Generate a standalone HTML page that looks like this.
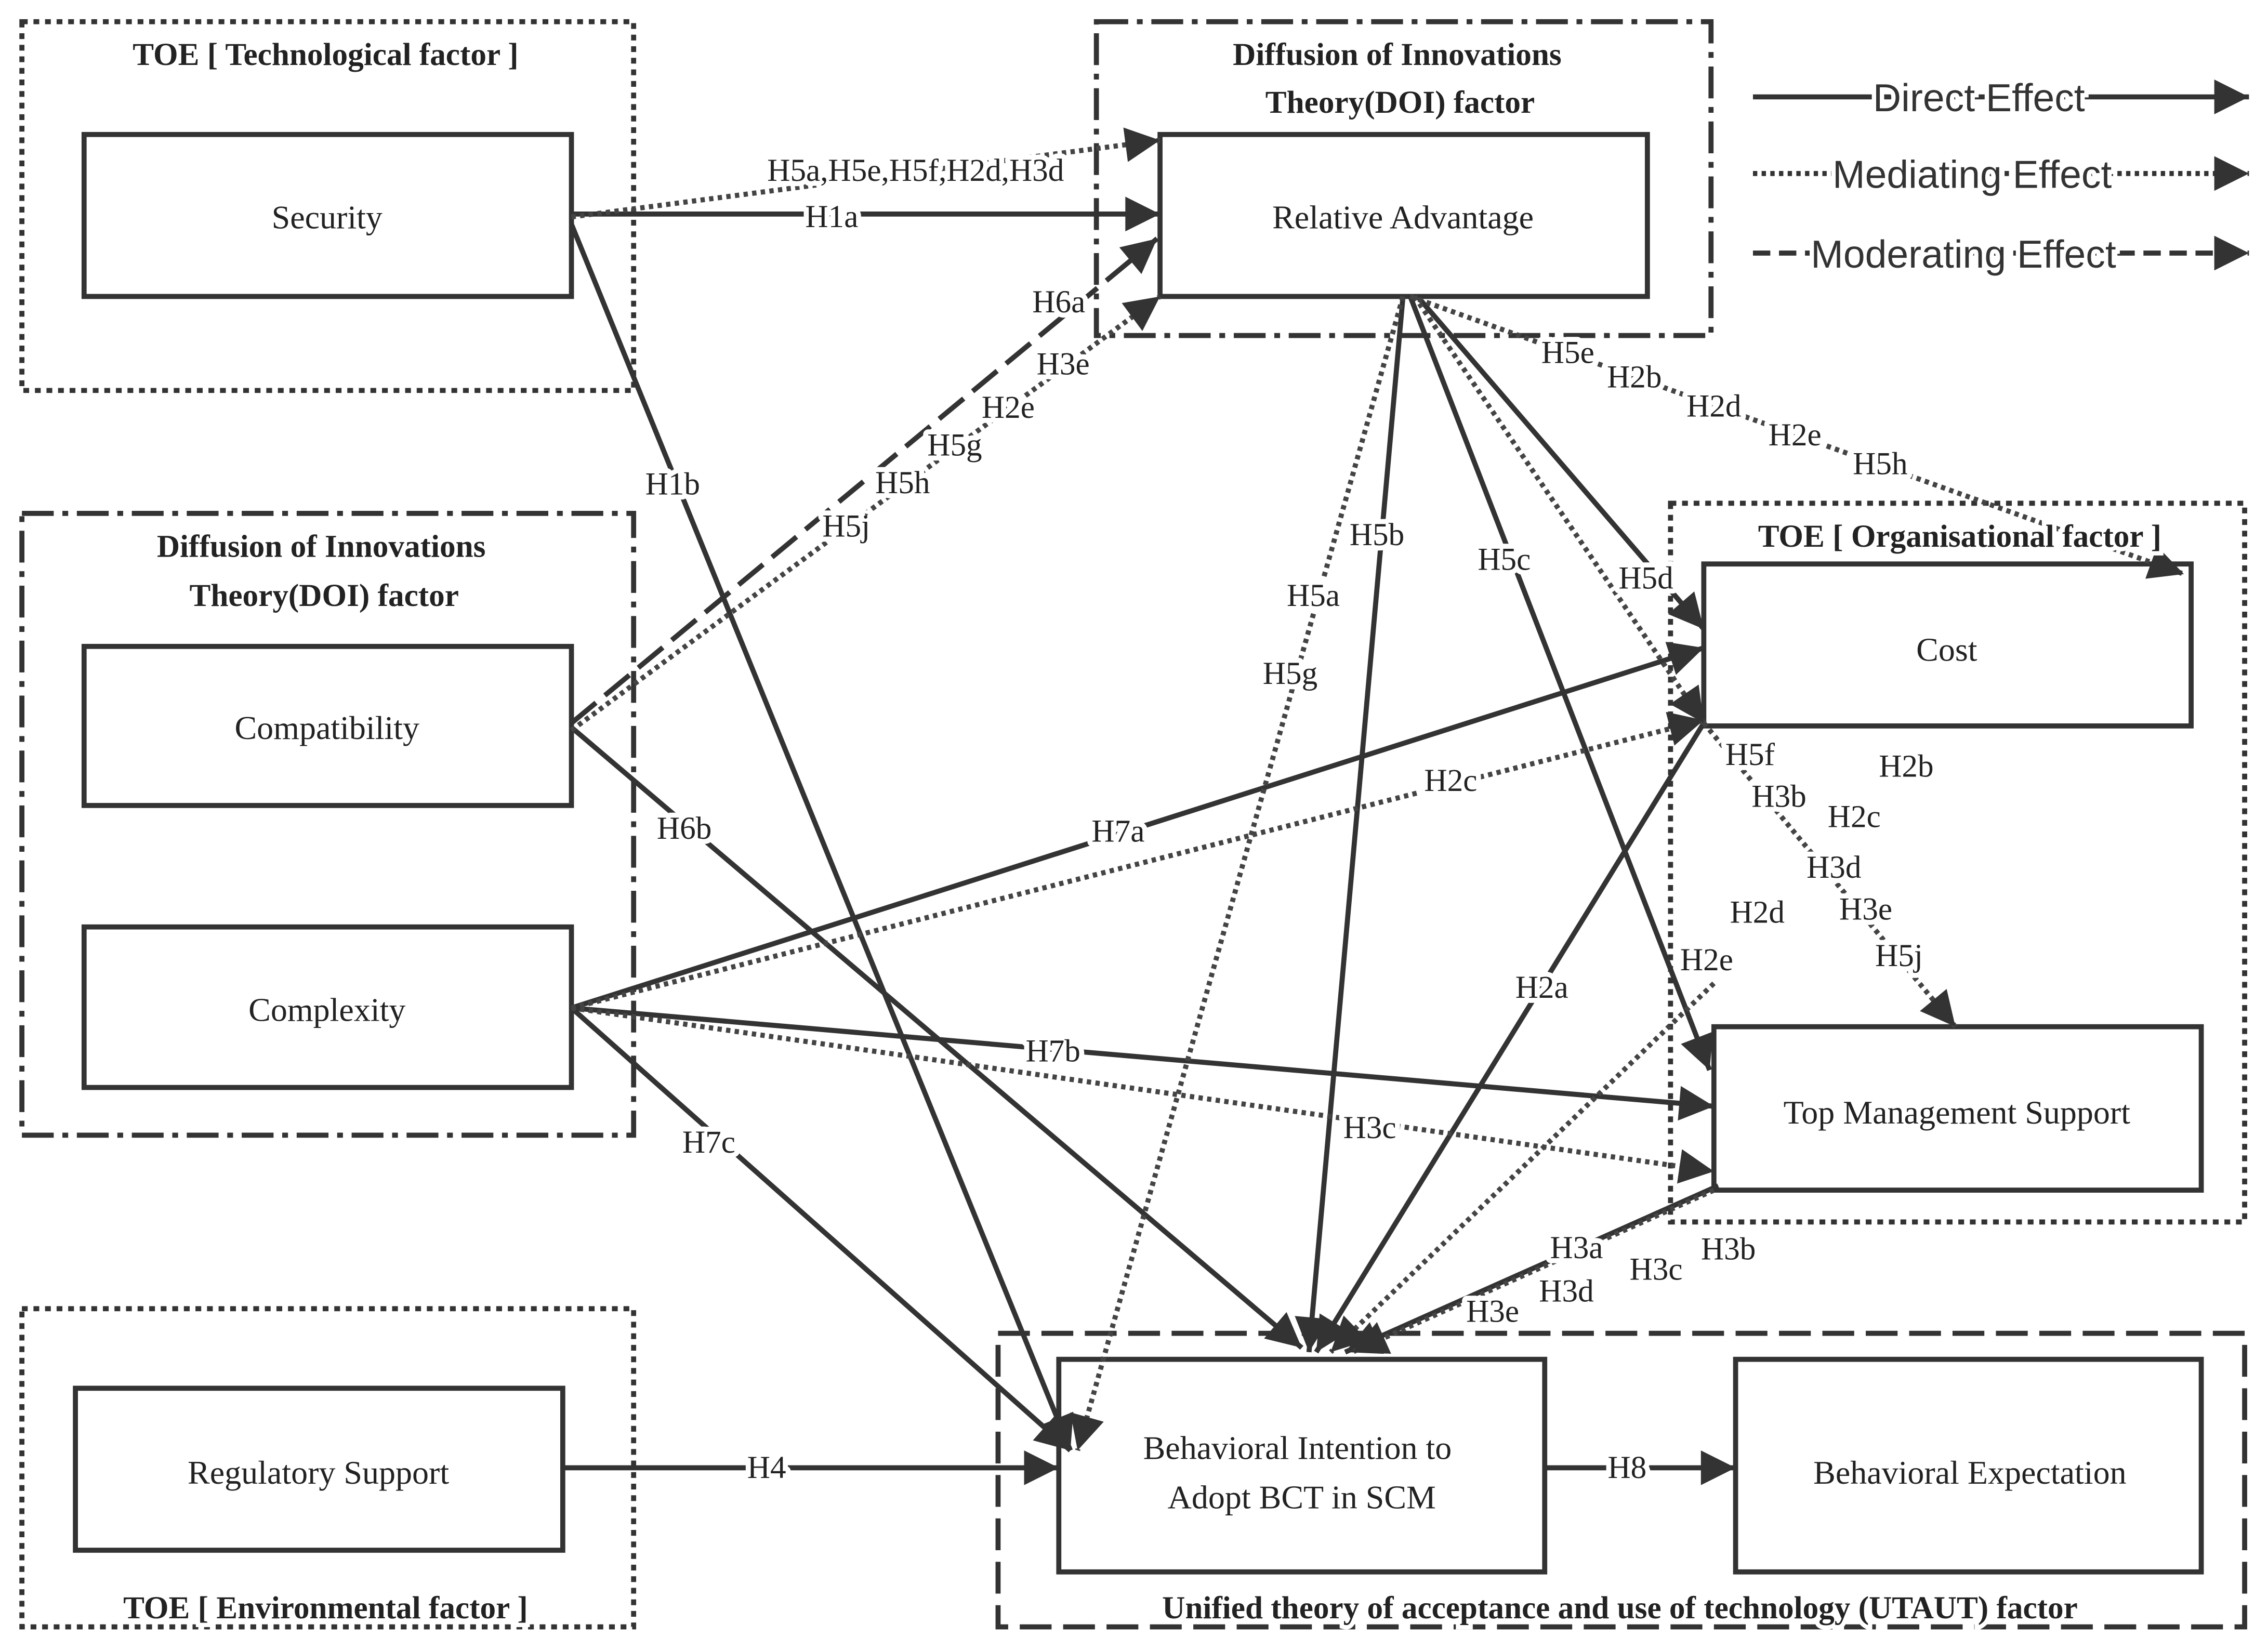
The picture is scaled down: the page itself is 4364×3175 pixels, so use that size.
<!DOCTYPE html>
<html><head><meta charset="utf-8"><style>
html,body{margin:0;padding:0;background:#fff}
svg{display:block}
text{font-family:"Liberation Serif",serif;fill:#222}
.l{font-size:22px;text-anchor:middle;paint-order:stroke;stroke:#fff;stroke-width:7px;stroke-linejoin:round}
.t{font-size:22px;font-weight:bold;text-anchor:middle}
.n{font-size:23px;text-anchor:middle}
.lg{font-family:"Liberation Sans",sans-serif;font-size:27px;fill:#333;paint-order:stroke;stroke:#fff;stroke-width:6px}
</style></head><body>
<svg width="4364" height="3175" viewBox="0 0 1568 1141" xmlns="http://www.w3.org/2000/svg">
<defs>
<marker id="a" viewBox="0 0 10 10" refX="10" refY="5" markerWidth="7" markerHeight="7" markerUnits="userSpaceOnUse" orient="auto" style="overflow:visible">
<path d="M0,0 L10,5 L0,10 z" fill="#333" transform="scale(1)"/>
</marker>
<marker id="A" viewBox="0 0 10 10" refX="10" refY="5" markerWidth="30" markerHeight="24" markerUnits="userSpaceOnUse" orient="auto">
<path d="M0,0 L10,5 L0,10 z" fill="#333"/>
</marker>
</defs>
<rect width="1568" height="1141" fill="#fff"/>
<g fill="none" stroke="#333" stroke-width="3.5">
<!-- group boxes -->
<rect x="15" y="15" width="423" height="255" stroke-dasharray="4 4"/>
<rect x="758" y="15" width="425" height="217" stroke-dasharray="22 6 4 6"/>
<rect x="15" y="355" width="423" height="430" stroke-dasharray="22 6 4 6"/>
<rect x="1155" y="348" width="397" height="497" stroke-dasharray="4 4"/>
<rect x="15" y="905" width="423" height="220" stroke-dasharray="4 4"/>
<rect x="690" y="922" width="862" height="203" stroke-dasharray="22 8"/>
<!-- nodes -->
<rect x="58" y="93" width="337" height="112"/>
<rect x="802" y="93" width="337" height="112"/>
<rect x="58" y="447" width="337" height="110"/>
<rect x="58" y="641" width="337" height="111"/>
<rect x="1178" y="390" width="337" height="112"/>
<rect x="1185" y="710" width="337" height="113"/>
<rect x="52" y="960" width="337" height="112"/>
<rect x="732" y="940" width="336" height="147"/>
<rect x="1200" y="940" width="322" height="147"/>
</g>
<g fill="none" stroke="#333" stroke-width="3.5" marker-end="url(#A)">
<!-- solid -->
<line x1="395" y1="148" x2="802" y2="148"/>
<line x1="395" y1="155" x2="740" y2="1003"/>
<line x1="395" y1="503" x2="900" y2="932"/>
<line x1="395" y1="697" x2="1178" y2="448"/>
<line x1="395" y1="697" x2="1185" y2="765"/>
<line x1="395" y1="697" x2="740" y2="1003"/>
<line x1="389" y1="1015" x2="732" y2="1015"/>
<line x1="1068" y1="1015" x2="1200" y2="1015"/>
<line x1="970" y1="205" x2="905" y2="935"/>
<line x1="975" y1="205" x2="1182" y2="740"/>
<line x1="980" y1="205" x2="1178" y2="435"/>
<line x1="1178" y1="500" x2="910" y2="935"/>
<line x1="1188" y1="820" x2="930" y2="935"/>
</g>
<g fill="none" stroke="#333" stroke-width="3.5" stroke-dasharray="22 8" marker-end="url(#A)">
<line x1="395" y1="500" x2="800" y2="165"/>
</g>
<g fill="none" stroke="#444" stroke-width="3.5" stroke-dasharray="3 3" marker-end="url(#A)">
<line x1="395" y1="150" x2="802" y2="97"/>
<line x1="395" y1="505" x2="802" y2="205"/>
<line x1="395" y1="697" x2="1178" y2="498"/>
<line x1="395" y1="697" x2="1185" y2="810"/>
<line x1="970" y1="205" x2="745" y2="1003"/>
<line x1="975" y1="205" x2="1510" y2="397"/>
<line x1="978" y1="205" x2="1178" y2="500"/>
<line x1="1178" y1="500" x2="1352" y2="710"/>
<line x1="1185" y1="680" x2="920" y2="935"/>
<line x1="1185" y1="823" x2="935" y2="935"/>
</g>
<!-- legend -->
<g stroke="#333" stroke-width="3.5" marker-end="url(#A)">
<line x1="1212" y1="67" x2="1555" y2="67"/>
<line x1="1212" y1="120" x2="1555" y2="120" stroke-dasharray="3 3"/>
<line x1="1212" y1="175" x2="1555" y2="175" stroke-dasharray="12 6"/>
</g>
<text class="lg" x="1295" y="77">Direct Effect</text>
<text class="lg" x="1267" y="130">Mediating Effect</text>
<text class="lg" x="1252" y="185">Moderating Effect</text>
<!-- titles -->
<text class="t" x="225" y="45">TOE [ Technological factor ]</text>
<text class="t" x="966" y="45">Diffusion of Innovations</text>
<text class="t" x="968" y="78">Theory(DOI) factor</text>
<text class="t" x="222" y="385">Diffusion of Innovations</text>
<text class="t" x="224" y="419">Theory(DOI) factor</text>
<text class="t" x="1355" y="378" style="paint-order:stroke;stroke:#fff;stroke-width:6px">TOE [ Organisational factor ]</text>
<text class="t" x="225" y="1119" style="paint-order:stroke;stroke:#fff;stroke-width:6px">TOE [ Environmental factor ]</text>
<text class="t" x="1120" y="1119" style="paint-order:stroke;stroke:#fff;stroke-width:6px">Unified theory of acceptance and use of technology (UTAUT) factor</text>
<!-- node texts -->
<text class="n" x="226" y="158">Security</text>
<text class="n" x="970" y="158">Relative Advantage</text>
<text class="n" x="226" y="511">Compatibility</text>
<text class="n" x="226" y="706">Complexity</text>
<text class="n" x="1346" y="457">Cost</text>
<text class="n" x="1353" y="777">Top Management Support</text>
<text class="n" x="220" y="1026">Regulatory Support</text>
<text class="n" x="897" y="1009">Behavioral Intention to</text>
<text class="n" x="900" y="1043">Adopt BCT in SCM</text>
<text class="n" x="1362" y="1026">Behavioral Expectation</text>
<!-- edge labels -->
<g>
<text class="l" x="633" y="125">H5a,H5e,H5f,H2d,H3d</text>
<text class="l" x="575" y="157">H1a</text>
<text class="l" x="732" y="216">H6a</text>
<text class="l" x="735" y="259">H3e</text>
<text class="l" x="697" y="289">H2e</text>
<text class="l" x="660" y="315">H5g</text>
<text class="l" x="624" y="341">H5h</text>
<text class="l" x="585" y="371">H5j</text>
<text class="l" x="465" y="342">H1b</text>
<text class="l" x="473" y="580">H6b</text>
<text class="l" x="773" y="582">H7a</text>
<text class="l" x="1003" y="547">H2c</text>
<text class="l" x="728" y="734">H7b</text>
<text class="l" x="947" y="787">H3c</text>
<text class="l" x="490" y="797">H7c</text>
<text class="l" x="530" y="1022">H4</text>
<text class="l" x="1125" y="1022">H8</text>
<text class="l" x="952" y="377">H5b</text>
<text class="l" x="908" y="419">H5a</text>
<text class="l" x="892" y="473">H5g</text>
<text class="l" x="1040" y="394">H5c</text>
<text class="l" x="1138" y="407">H5d</text>
<text class="l" x="1084" y="251">H5e</text>
<text class="l" x="1130" y="268">H2b</text>
<text class="l" x="1185" y="288">H2d</text>
<text class="l" x="1241" y="308">H2e</text>
<text class="l" x="1300" y="328">H5h</text>
<text class="l" x="1066" y="690">H2a</text>
<text class="l" x="1210" y="529">H5f</text>
<text class="l" x="1318" y="537">H2b</text>
<text class="l" x="1230" y="558">H3b</text>
<text class="l" x="1282" y="572">H2c</text>
<text class="l" x="1268" y="607">H3d</text>
<text class="l" x="1215" y="638">H2d</text>
<text class="l" x="1290" y="636">H3e</text>
<text class="l" x="1180" y="671">H2e</text>
<text class="l" x="1313" y="668">H5j</text>
<text class="l" x="1090" y="870">H3a</text>
<text class="l" x="1195" y="871">H3b</text>
<text class="l" x="1145" y="885">H3c</text>
<text class="l" x="1083" y="900">H3d</text>
<text class="l" x="1032" y="914">H3e</text>
</g>
</svg>
</body></html>
